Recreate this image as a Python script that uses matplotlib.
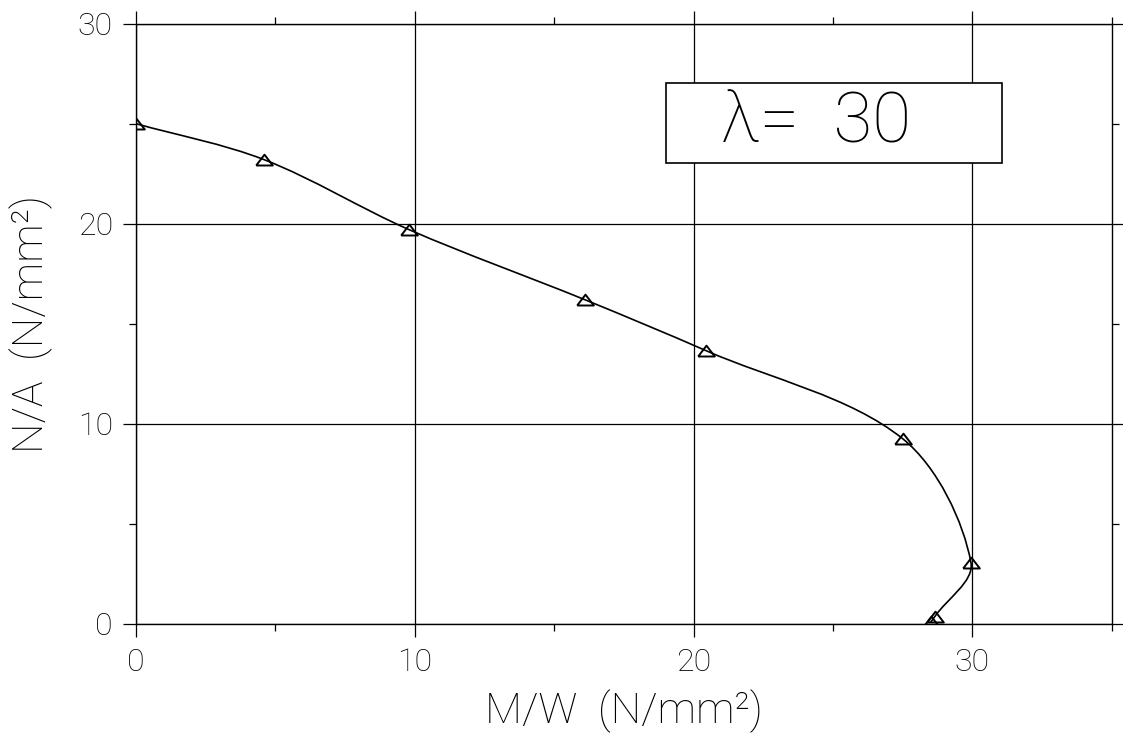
import matplotlib
matplotlib.use("Agg")
import matplotlib.pyplot as plt
import numpy as np
from matplotlib.path import Path
from matplotlib.patches import PathPatch, Rectangle

# values
mw = [0.0, 4.6, 9.8, 16.1, 20.45, 27.5, 29.95, 28.65, 28.5]
na = [25.0, 23.2, 19.7, 16.2, 13.65, 9.25, 3.05, 0.35, 0.07]
x_ticks = [0, 10, 20, 30]
y_ticks = [0, 10, 20, 30]
lam_text = "λ=  30"

plt.rcParams['font.family'] = ['Roboto', 'DejaVu Sans']
plt.rcParams['font.weight'] = 'light'
plt.rcParams['axes.labelweight'] = 'light'

fig = plt.figure(figsize=(11.23, 7.39), dpi=100)
ax = fig.add_axes([0.121, 0.156, 0.869, 0.812])


def smooth_path(xs, ys, yscale=0.717):
    # chord-length hermite spline through the points, as bezier segments
    p = np.column_stack([xs, ys])
    q = p * [1, yscale]
    d = np.hypot(*np.diff(q, axis=0).T)
    n = len(p)
    m = np.zeros_like(p)
    m[0] = (p[1] - p[0]) / d[0]
    m[-1] = (p[-1] - p[-2]) / d[-1]
    for i in range(1, n - 1):
        m[i] = (p[i + 1] - p[i - 1]) / (d[i - 1] + d[i])
    verts = [p[0]]
    codes = [Path.MOVETO]
    for i in range(n - 1):
        verts += [p[i] + m[i] * d[i] / 3, p[i + 1] - m[i + 1] * d[i] / 3, p[i + 1]]
        codes += [Path.CURVE4] * 3
    return Path(verts, codes)


ax.add_patch(PathPatch(smooth_path(mw, na), fill=False, lw=1.2,
                       edgecolor='black', zorder=3))

tri = [(-1, -0.6), (1, -0.6), (0, 0.7), (-1, -0.6)]
ax.plot(mw, na, linestyle='none', marker=tri, markersize=12,
        markerfacecolor='none', markeredgecolor='black',
        markeredgewidth=1.4, zorder=4)

ax.set_xlim(0, 35)
ax.set_ylim(0, 30)
ax.set_xticks(x_ticks)
ax.set_yticks(y_ticks)
ax.set_xticks([5, 15, 25, 35], minor=True)
ax.set_yticks([5, 15, 25], minor=True)
ax.grid(True, which='major', color='black', lw=0.9)
for s in ax.spines.values():
    s.set_linewidth(1.0)
ax.tick_params(which='major', direction='out', length=9.5, width=0.9,
               top=True, right=True, labelsize=23, pad=7, colors='black')
ax.tick_params(which='minor', direction='out', length=5, width=0.9,
               top=True, right=True)
ax.tick_params(axis='x', pad=8)

ax.set_xlabel("M/W  (N/mm²)", fontsize=31, labelpad=9)
ax.set_ylabel("N/A  (N/mm²)", fontsize=31, labelpad=18)

ax.add_patch(Rectangle((19.0, 23.05), 12.05, 4.0, facecolor='white',
                       edgecolor='black', lw=1.2, zorder=5))
ax.text(21.0, 25.05, lam_text, fontsize=51, va='center', ha='left', zorder=6)

fig.savefig("out.png", dpi=100)
